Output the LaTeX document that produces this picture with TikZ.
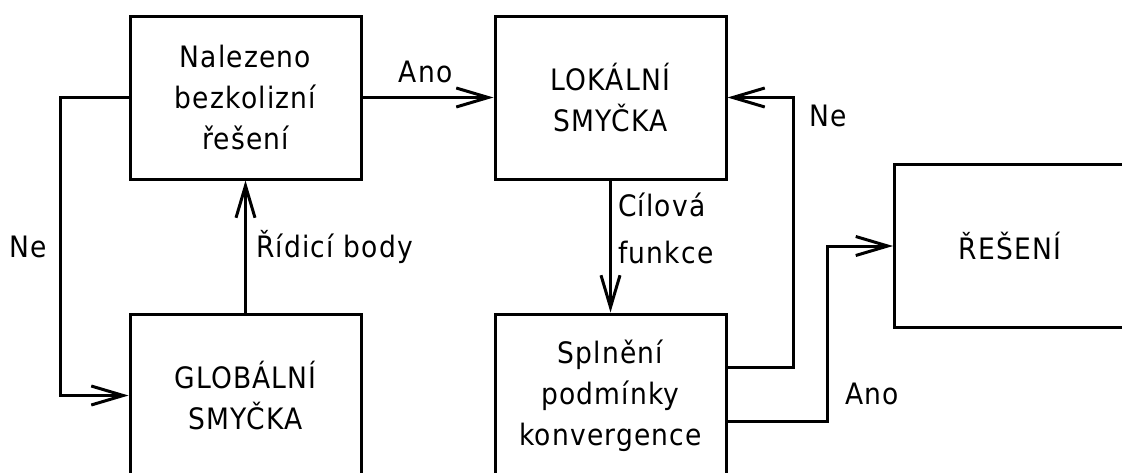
\documentclass[tikz,border=0pt]{standalone}
\usepackage{fontspec}
\setmainfont[LetterSpace=4]{DejaVu Sans Condensed}
\usetikzlibrary{arrows.meta}
\tikzset{
  x=1pt,y=1pt,
  box/.style={draw,line width=3pt,minimum width=231pt,minimum height=163pt,inner sep=0pt,align=center,
    font=\fontsize{29.5}{41}\selectfont},
  conn/.style={line width=3pt,-{Straight Barb[length=32pt,width=19pt,line width=3pt]}},
  lbl/.style={inner sep=0pt,font=\fontsize{29.5}{47}\selectfont}
}
\begin{document}
\begin{tikzpicture}
\useasboundingbox (0,0) rectangle (1122,-472);
\node[box] (A) at (245.5,-97.5) {Nalezeno\\bezkolizní\\řešení};
\node[box] (B) at (610.5,-97.5) {LOKÁLNÍ\\SMYČKA};
\node[box] (C) at (245.5,-395.5) {GLOBÁLNÍ\\SMYČKA};
\node[box] (D) at (610.5,-395.5) {Splnění\\podmínky\\konvergence};
\node[box] (E) at (1010,-246) {ŘEŠENÍ};
\coordinate (dne) at ([yshift=28.5pt]D.east);
\coordinate (dano) at ([yshift=-25.5pt]D.east);
\draw[conn] (A.west) -- ++(-68,0) |- (C.west);
\draw[conn] (C.north) -- (A.south);
\draw[conn] (A.east) -- (B.west);
\draw[conn] (B.south) -- (D.north);
\draw[conn] (dne) -| (793,-97.5) -- (B.east);
\draw[conn] (dano) -| (827,-246) -- (E.west);
\node[lbl,anchor=base] (ano1) at (425.5,-82) {Ano};
\node[lbl,anchor=base] (ne1) at (28,-257) {Ne};
\node[lbl,anchor=base west] (rb) at (256,-257) {Řídicí body};
\node[lbl,anchor=base west,align=left] (cf) at (618,-263) {Cílová\\funkce};
\node[lbl,anchor=base west] (ne2) at (809,-126) {Ne};
\node[lbl,anchor=base west] (ano2) at (845,-404) {Ano};
\end{tikzpicture}
\end{document}
